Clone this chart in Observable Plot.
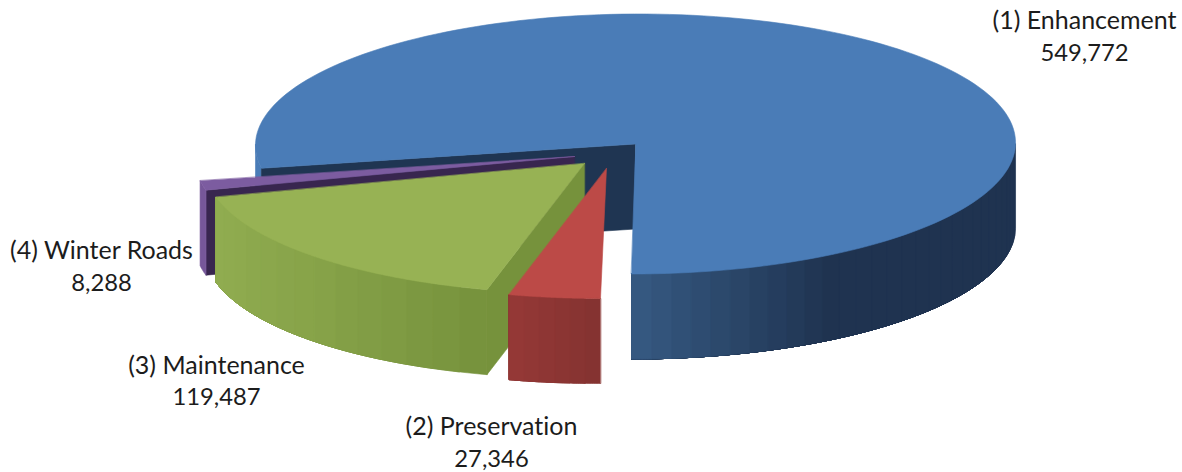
<!DOCTYPE html>
<html>
<head>
<meta charset="utf-8">
<script src="https://cdn.jsdelivr.net/npm/d3@7"></script>
<script src="https://cdn.jsdelivr.net/npm/@observablehq/plot@0.6"></script>
<style>
  html, body { margin: 0; padding: 0; background: #fff; }
  svg { display: block; font-variant-ligatures: none; }
</style>
</head>
<body>
<div id="chart"></div>
<script>
// Road budget by program
const categories = ["(1) Enhancement", "(2) Preservation", "(3) Maintenance", "(4) Winter Roads"];
const values = [549772, 27346, 119487, 8288];

// Colours of each slice: top face, inner wall, rim from its left to its right end
const topColors = ["#4a7cb7", "#bc4a47", "#97b254", "#7c5ca0"];
const wallColors = ["#1f3552", "#8a3533", "#76923c", "#38264f"];
const rimLeft = ["#365a83", "#963836", "#90ac50", "#7c5ca0"];
const rimRight = ["#1f3350", "#833230", "#76923c", "#6f5192"];

// Where each exploded slice has its apex, and the disc's proportions
const apexX = [635, 606, 584, 574];
const apexY = [143.5, 168, 163, 156];
const skews = [4, 6, 6, 6];
const radiusX = 380;
const radiusY = 130;
const thickness = 85;

// Label anchors: first line and second line
const labelX = [1084, 491, 216, 101];
const nameY = [20.5, 426, 365.5, 250];
const amountY = [52.5, 459, 396.5, 283];

const total = d3.sum(values);
const start = Math.PI - (values[0] / total) * 2 * Math.PI;
const arcs = d3.pie().sort(null).startAngle(start).endAngle(start + 2 * Math.PI)(values);

// Angle runs clockwise from twelve o'clock on the tilted disc
const rimPoint = (i, a, drop = 0) => ({
  x: apexX[i] + radiusX * Math.sin(a) + skews[i] * Math.cos(a),
  y: apexY[i] - radiusY * Math.cos(a) + drop
});
const arcPoints = (i, a0, a1, drop = 0, n = 60) =>
  d3.range(n + 1).map((k) => rimPoint(i, a0 + ((a1 - a0) * k) / n, drop));

const polys = [];
const addPoly = (pts, fill) => {
  const id = polys.length;
  polys.push({id, fill, pts});
};

// Outer wall as vertical bands, which gives the stepped shading. Each band
// runs on to the end of the rim and the next one paints over it, so no gaps
// open between neighbours.
function addRim(i, a0, a1, strips, colorAt) {
  for (let s = 0; s < strips; ++s) {
    const b0 = a0 + ((a1 - a0) * s) / strips;
    const b1 = a0 + ((a1 - a0) * (s + 1)) / strips;
    const upper = arcPoints(i, b0, a1, 0, 40);
    const lower = arcPoints(i, a1, b0, thickness, 40);
    const xm = (rimPoint(i, b0).x + rimPoint(i, b1).x) / 2;
    addPoly([...upper, ...lower], colorAt(xm));
  }
}

// Flat wall along a cut edge of a slice
function addWall(i, a, fill) {
  const p = rimPoint(i, a);
  const c = {x: apexX[i], y: apexY[i]};
  addPoly([c, p, {x: p.x, y: p.y + thickness}, {x: c.x, y: c.y + thickness}], fill);
}

function addTop(i, a0, a1) {
  addPoly([{x: apexX[i], y: apexY[i]}, ...arcPoints(i, a0, a1, 0, 160)], topColors[i]);
}

// Enhancement: the large disc, drawn first
{
  const a = arcs[0];
  const shade = d3.scaleLinear()
    .domain([631, 830, 1015])
    .range([rimLeft[0], rimRight[0], rimRight[0]])
    .clamp(true);
  addRim(0, a.startAngle, -Math.PI / 2, 1, () => topColors[0]);
  addRim(0, Math.PI / 2, a.endAngle, 30, shade);
  addWall(0, a.startAngle, wallColors[0]);
  addTop(0, a.startAngle, a.endAngle);
}

// Remaining slices, back to front
for (const i of [3, 2, 1]) {
  const a = arcs[i];
  const xs = [rimPoint(i, a.startAngle).x, rimPoint(i, a.endAngle).x];
  const shade = d3.scaleLinear()
    .domain([d3.min(xs), d3.max(xs)])
    .range([rimLeft[i], rimRight[i]])
    .clamp(true);
  if (i !== 1) addWall(i, a.startAngle, wallColors[i]);
  addRim(i, a.startAngle, a.endAngle, i === 3 ? 1 : i === 2 ? 14 : 6, shade);
  addTop(i, a.startAngle, a.endAngle);
}

const vertices = polys.flatMap((p) => p.pts.map((q) => ({...q, id: p.id, fill: p.fill})));

const labels = categories.map((name, i) => ({
  x: labelX[i],
  nameY: nameY[i],
  amountY: amountY[i],
  name,
  amount: d3.format(",")(values[i])
}));

const chart = Plot.plot({
  width: 1182,
  height: 472,
  margin: 0,
  x: {domain: [0, 1182], range: [0, 1182], axis: null},
  y: {domain: [0, 472], range: [0, 472], axis: null},
  color: {type: "identity"},
  style: {background: "#fff"},
  marks: [
    Plot.line(vertices, {
      x: "x",
      y: "y",
      z: "id",
      fill: "fill",
      stroke: "fill",
      strokeWidth: 0.6,
      curve: "linear-closed"
    }),
    Plot.text(labels, {
      x: "x",
      y: "nameY",
      text: "name",
      fontFamily: "Lato",
      fontSize: 25,
      fill: "#1c1c1c"
    }),
    Plot.text(labels, {
      x: "x",
      y: "amountY",
      text: "amount",
      fontFamily: "Lato",
      fontSize: 23.8,
      fill: "#1c1c1c"
    })
  ]
});

document.getElementById("chart").appendChild(chart);
</script>
</body>
</html>
